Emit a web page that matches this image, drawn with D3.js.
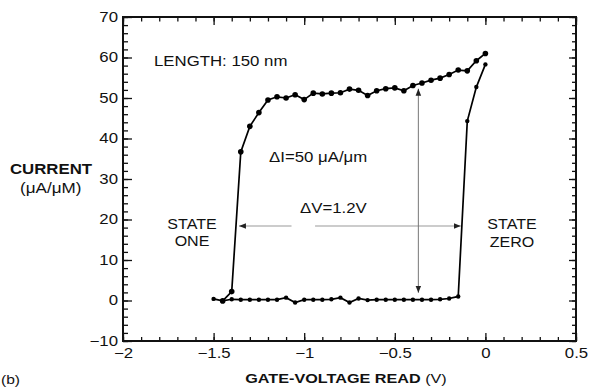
<!DOCTYPE html>
<html>
<head>
<meta charset="utf-8">
<script src="https://cdn.jsdelivr.net/npm/d3@7"></script>
<style>
  body { margin: 0; background: #fff; }
  text { font-family: "Liberation Sans", Arial, Helvetica, sans-serif; fill: #111; }
</style>
</head>
<body>
<div class="chart"></div>
<script>
// tick labels
var xTicks = [-2, -1.5, -1, -0.5, 0, 0.5];
var yTicks = [-10, 0, 10, 20, 30, 40, 50, 60, 70];

// lower branch: read sweep from -1.5 V up to 0 V
var lowerV = [-1.5, -1.45, -1.4, -1.35, -1.3, -1.25, -1.2, -1.15, -1.1, -1.05, -1.0, -0.95, -0.9, -0.85,
  -0.8, -0.75, -0.7, -0.65, -0.6, -0.55, -0.5, -0.45, -0.4, -0.35, -0.3, -0.25, -0.2, -0.15, -0.1, -0.05, 0];
var lowerI = [0.4, -0.1, 0.3, 0.2, 0.2, 0.2, 0.2, 0.2, 0.7, -0.5, 0.2, 0.2, 0.2, 0.3,
  0.7, -0.5, 0.5, 0.1, 0.2, 0.2, 0.2, 0.2, 0.2, 0.2, 0.2, 0.3, 0.5, 1.0, 44.3, 52.7, 58.3];

// upper branch: read sweep back from 0 V down to -1.45 V
var upperV = [0, -0.05, -0.1, -0.15, -0.2, -0.25, -0.3, -0.35, -0.4, -0.45, -0.5, -0.55, -0.6, -0.65,
  -0.7, -0.75, -0.8, -0.85, -0.9, -0.95, -1.0, -1.05, -1.1, -1.15, -1.2, -1.25, -1.3, -1.35, -1.4, -1.45];
var upperI = [61.0, 59.2, 56.7, 56.9, 55.8, 54.9, 54.4, 53.7, 53.1, 51.8, 52.5, 52.3, 51.8, 50.6,
  51.9, 52.2, 51.3, 51.2, 51.0, 51.2, 49.6, 50.8, 50.0, 50.3, 49.5, 46.4, 43.0, 36.7, 2.2, -0.1];

// annotation arrows (data space)
var dV = { y: 18.4, x1: -1.36, x2: -0.136, gap1: -1.07, gap2: -0.94 };
var dI = { x: -0.37, y1: 52.3, y2: 1.9 };

var margin = { top: 17, right: 14, bottom: 46, left: 123 },
    width = 590 - margin.left - margin.right,
    height = 387 - margin.top - margin.bottom;

var x = d3.scaleLinear().domain([-2, 0.5]).range([0, width]);
var y = d3.scaleLinear().domain([-10, 70]).range([height, 0]);

var svg = d3.select(".chart").append("svg")
    .attr("width", 590)
    .attr("height", 387);

var g = svg.append("g")
    .attr("transform", "translate(" + margin.left + "," + margin.top + ")");

var SX = 1.2; // the scan is stretched horizontally

// minor ticks
var xMinor = d3.range(-2, 0.5001, 0.1).map(function (d) { return +d.toFixed(1); });
var yMinor = d3.range(-10, 70.001, 2);

function minorAxis(axis, vals, len, tr) {
    g.append("g")
        .attr("transform", tr)
        .call(axis.tickValues(vals).tickFormat("").tickSizeInner(-len).tickSizeOuter(0))
        .call(function (s) { s.select(".domain").remove(); })
        .selectAll("line").attr("stroke", "#111").attr("stroke-width", 1.3);
}
minorAxis(d3.axisBottom(x), xMinor, 4, "translate(0," + height + ")");
minorAxis(d3.axisTop(x), xMinor, 4.5, "translate(0,0)");
minorAxis(d3.axisLeft(y), yMinor, 5, "translate(0,0)");
minorAxis(d3.axisRight(y), yMinor, 4, "translate(" + width + ",0)");

// major ticks
var fmt = d3.format("");
var xAxis = d3.axisBottom(x).tickValues(xTicks).tickFormat(fmt).tickSizeInner(-8).tickSizeOuter(0).tickPadding(7);
var yAxis = d3.axisLeft(y).tickValues(yTicks).tickFormat(fmt).tickSizeInner(-9).tickSizeOuter(0).tickPadding(5);

var gx = g.append("g").attr("class", "x axis")
    .attr("transform", "translate(0," + height + ")")
    .call(xAxis);
gx.selectAll("text").attr("transform", "scale(" + SX + ",1)");

var gy = g.append("g").attr("class", "y axis").call(yAxis);
gy.selectAll("text").attr("x", -5 / SX).attr("transform", "scale(" + SX + ",1)");

g.append("g").call(d3.axisTop(x).tickValues(xTicks).tickFormat("").tickSizeInner(-8).tickSizeOuter(0))
    .select(".domain").remove();
g.append("g").attr("transform", "translate(" + width + ",0)")
    .call(d3.axisRight(y).tickValues(yTicks).tickFormat("").tickSizeInner(-7).tickSizeOuter(0))
    .select(".domain").remove();

g.selectAll(".axis text").style("font-size", "14px").attr("fill", "#111");
g.selectAll(".tick line").attr("stroke", "#111").attr("stroke-width", 1.3);
g.selectAll(".domain").remove();

g.append("rect")
    .attr("width", width).attr("height", height)
    .attr("fill", "none").attr("stroke", "#111").attr("stroke-width", 2);

// arrow markers
var defs = svg.append("defs");
defs.append("marker")
    .attr("id", "arr")
    .attr("viewBox", "0 0 10 10")
    .attr("refX", 10).attr("refY", 5)
    .attr("markerWidth", 7).attr("markerHeight", 7)
    .attr("markerUnits", "userSpaceOnUse")
    .attr("orient", "auto-start-reverse")
    .append("path").attr("d", "M0,1 L10,5 L0,9 Z").attr("fill", "#222");

// delta V arrow (with gap)
g.append("line")
    .attr("x1", x(dV.gap1)).attr("x2", x(dV.x1))
    .attr("y1", y(dV.y)).attr("y2", y(dV.y))
    .attr("stroke", "#999").attr("stroke-width", 1.2)
    .attr("marker-end", "url(#arr)");
g.append("line")
    .attr("x1", x(dV.gap2)).attr("x2", x(dV.x2))
    .attr("y1", y(dV.y)).attr("y2", y(dV.y))
    .attr("stroke", "#999").attr("stroke-width", 1.2)
    .attr("marker-end", "url(#arr)");

// delta I arrow
g.append("line")
    .attr("x1", x(dI.x)).attr("x2", x(dI.x))
    .attr("y1", y(dI.y1)).attr("y2", y(dI.y2))
    .attr("stroke", "#777").attr("stroke-width", 1)
    .attr("marker-start", "url(#arr)")
    .attr("marker-end", "url(#arr)");

// curves
var lower = lowerV.map(function (v, i) { return [v, lowerI[i]]; });
var upper = upperV.map(function (v, i) { return [v, upperI[i]]; });

var line = d3.line()
    .x(function (d) { return x(d[0]); })
    .y(function (d) { return y(d[1]); });

[lower, upper].forEach(function (data, k) {
    g.append("path")
        .datum(data)
        .attr("fill", "none")
        .attr("stroke", "#000")
        .attr("stroke-width", 1.7)
        .attr("d", line);
    g.selectAll(".pt" + k)
        .data(data)
        .enter().append("circle")
        .attr("class", "pt" + k)
        .attr("cx", function (d) { return x(d[0]); })
        .attr("cy", function (d) { return y(d[1]); })
        .attr("r", k === 1 ? 2.8 : 2.2)
        .attr("fill", "#000");
});

// labels
function label(txt, px, py, size, opts) {
    opts = opts || {};
    var t = svg.append("text")
        .attr("transform", "translate(" + px + "," + py + ") scale(" + (opts.sx || SX) + ",1)")
        .attr("text-anchor", opts.anchor || "start")
        .style("font-size", size + "px")
        .style("font-weight", opts.bold ? "bold" : "normal");
    t.text(txt);
    return t;
}

label("LENGTH: 150 nm", 154, 66, 14);
label("\u0394I=50 \u03bcA/\u03bcm", 269, 162, 14);
label("\u0394V=1.2V", 300, 213, 14);
label("STATE", 192, 229, 15, { anchor: "middle", sx: 1.07 });
label("ONE", 192, 246, 15, { anchor: "middle", sx: 1.07 });
label("STATE", 512, 229, 15, { anchor: "middle", sx: 1.07 });
label("ZERO", 512, 247, 15, { anchor: "middle", sx: 1.07 });
label("CURRENT", 10, 174, 14, { bold: true });
label("(\u03bcA/\u03bcM)", 20, 193, 14, { sx: 1.22 });

var xl = label("GATE-VOLTAGE READ ", 346, 383, 13.5, { anchor: "middle", bold: true });
xl.append("tspan").style("font-weight", "normal").text("(V)");

label("(b)", 1, 384, 13);
</script>
</body>
</html>
